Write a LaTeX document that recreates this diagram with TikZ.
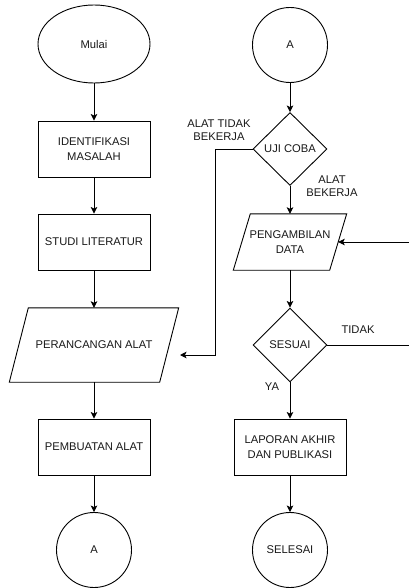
\documentclass[tikz,border=0pt]{standalone}
\usepackage{fontspec}
\setmainfont{Liberation Sans}
\usetikzlibrary{shapes.geometric,arrows.meta}
\begin{document}
\begin{tikzpicture}[x=1pt,y=-1pt,
  every node/.style={font=\fontsize{11.2}{14.5}\selectfont, text=black!90, align=center, inner sep=0pt},
  shp/.style={draw=black, line width=0.9pt, fill=white},
  proc/.style={shp, rectangle, minimum width=112, minimum height=56},
  term/.style={shp, circle, minimum size=75},
  dec/.style={shp, diamond, minimum width=74, minimum height=73},
  iobox/.style={rectangle, minimum width=#1},
  pgram/.style={shp},
  arr/.style={draw=black, line width=0.9pt, -{Stealth[length=6.5pt,width=6.5pt,inset=1.5pt]}},
  lbl/.style={font=\fontsize{11.2}{13}\selectfont}]
\useasboundingbox (0,0) rectangle (408,588);

% left column
\node[shp, ellipse, minimum width=112, minimum height=78] (mulai) at (94,44) {Mulai};
\node[proc] (idm) at (94,149) {IDENTIFIKASI\\MASALAH};
\node[proc] (studi) at (94,242) {STUDI LITERATUR};
\node[iobox=150, minimum height=74] (pr) at (94,345) {};
\draw[pgram] ([xshift=9.5]pr.north west) -- ([xshift=9.5]pr.north east) -- ([xshift=-9.5]pr.south east) -- ([xshift=-9.5]pr.south west) -- cycle;
\node (prt) at (pr.center) {PERANCANGAN ALAT};
\node[proc] (pem) at (94,447) {PEMBUATAN ALAT};
\node[term] (a1) at (94,550) {A};

% right column
\node[term] (a2) at (290,45) {A};
\node[dec] (uji) at (290,149) {UJI COBA};
\node[iobox=96, minimum height=56] (peng) at (290,242) {};
\draw[pgram] ([xshift=8.5]peng.north west) -- ([xshift=8.5]peng.north east) -- ([xshift=-8.5]peng.south east) -- ([xshift=-8.5]peng.south west) -- cycle;
\node (pengt) at (peng.center) {PENGAMBILAN\\DATA};
\node[dec, minimum height=74] (ses) at (290,345) {SESUAI};
\node[proc] (lap) at (290,447) {LAPORAN AKHIR\\DAN PUBLIKASI};
\node[term] (sel) at (290,550) {SELESAI};

% labels
\node[lbl] (ltb) at (219,130) {ALAT TIDAK\\BEKERJA};
\node[lbl] (lb) at (332,186) {ALAT\\BEKERJA};
\node[lbl] (lt) at (358,330) {TIDAK};
\node[lbl] (ly) at (272,387) {YA};

% connectors
\draw[arr] (mulai) -- (idm);
\draw[arr] (idm) -- (studi);
\draw[arr] (studi) -- (pr);
\draw[arr] (pr) -- (pem);
\draw[arr] (pem) -- (a1);

\draw[arr] (a2) -- (uji);
\draw[arr] (uji) -- (peng);
\draw[arr] (peng) -- (ses);
\draw[arr] (ses) -- (lap);
\draw[arr] (lap) -- (sel);

\coordinate (lc) at (215,355);
\coordinate (pin) at (180,355);
\draw[arr] (uji.west) -| (lc) -- (pin);

\coordinate (rc) at (412,345);
\draw[arr] (ses.east) -- (rc) |- (peng.east);
\end{tikzpicture}
\end{document}
